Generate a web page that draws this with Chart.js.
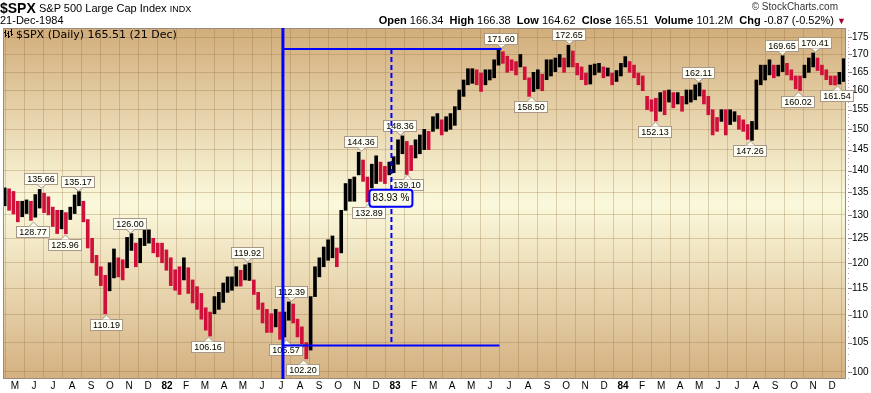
<!DOCTYPE html>
<html>
<head>
<meta charset="utf-8">
<script src="https://cdn.jsdelivr.net/npm/chart.js@4.4.1/dist/chart.umd.min.js"></script>
<style>
body{margin:0;background:#fff;width:871px;height:393px;overflow:hidden;position:relative;font-family:"Liberation Sans",Arial,sans-serif;}
#c{position:absolute;left:0;top:0;}
.h{position:absolute;white-space:nowrap;color:#000;z-index:2;}
.h b{font-weight:bold;}
</style>
</head>
<body>
<canvas id="c" width="871" height="393"></canvas>
<div class="h" style="left:0;top:1px;font-size:14px;line-height:14px;font-weight:bold">$SPX</div>
<div class="h" style="left:39px;top:3px;font-size:11px;line-height:11px">S&amp;P 500 Large Cap Index <span style="font-size:9px">INDX</span></div>
<div class="h" style="left:0;top:15px;font-size:11px;line-height:11px">21-Dec-1984</div>
<div class="h" style="right:33px;top:2px;font-size:10px;line-height:10px;color:#333">&copy; StockCharts.com</div>
<div class="h" style="right:25px;top:15px;font-size:11px;line-height:11px"><b>Open</b> 166.34 &nbsp;<b>High</b> 166.38 &nbsp;<b>Low</b> 164.62 &nbsp;<b>Close</b> 165.51 &nbsp;<b>Volume</b> 101.2M &nbsp;<b>Chg</b> -0.87 (-0.52%) <span style="color:#a0002a;font-size:9px">&#9660;</span></div>
<script>
// weekly ranges, week of 13-Apr-1981 .. week of 17-Dec-1984
var weekLow = [
 132.0,131.0,130.2,128.5,129.6,130.3,128.8,129.5,131.5,130.5,130.0,127.5,126.0,127.0,125.96,129.0,130.3,132.0,128.5,123.0,
 120.0,117.5,115.5,110.19,114.5,117.0,117.2,116.6,119.0,122.5,119.2,120.0,123.5,124.0,122.0,121.2,120.0,118.5,115.5,114.6,
 113.8,116.6,114.0,112.2,111.0,109.2,107.2,106.16,110.2,111.0,112.3,114.2,114.6,115.4,115.4,116.6,116.5,113.8,111.0,108.5,
 106.8,106.8,107.8,105.57,106.0,109.0,108.5,106.0,104.2,102.2,103.7,113.4,117.2,119.2,120.5,121.0,119.2,122.0,131.0,133.0,
 133.0,139.0,137.5,132.89,136.0,137.0,137.5,137.0,139.0,139.5,141.5,144.0,139.1,140.0,143.0,144.0,145.0,145.0,149.5,150.2,
 148.6,149.5,150.0,151.0,155.0,158.5,161.6,162.0,161.6,159.8,161.6,162.9,163.5,167.0,167.5,165.0,165.5,164.3,166.5,163.0,
 158.5,159.8,160.5,160.0,163.0,164.0,165.2,166.5,165.0,166.5,166.5,164.3,163.0,161.6,161.8,164.3,165.0,163.5,164.0,161.6,
 162.5,164.0,166.5,165.0,163.5,161.6,160.0,155.0,154.6,152.13,154.6,153.7,157.0,155.5,156.5,154.6,156.5,157.0,157.6,158.6,
 156.5,153.7,148.6,149.5,152.0,148.6,151.2,152.0,150.0,149.5,147.5,147.26,150.0,161.6,162.9,164.3,163.5,164.0,165.2,164.3,
 162.9,160.5,160.02,163.5,165.0,166.5,165.5,164.3,163.0,161.6,161.54,161.8,162.5
];
var weekHigh = [
 136.0,135.8,135.2,133.0,133.0,133.3,133.0,134.5,135.66,134.8,134.0,131.7,131.0,131.0,130.5,131.7,134.4,135.17,133.0,129.0,
 125.0,121.5,119.2,117.5,120.0,122.8,121.0,120.6,125.2,126.0,124.0,125.0,126.8,126.8,125.0,124.0,124.0,122.6,121.0,118.6,
 119.2,121.0,119.0,116.6,115.3,114.0,111.3,110.5,113.4,114.2,116.0,117.2,117.2,119.2,118.5,119.6,119.92,116.6,114.2,112.2,
 111.0,110.2,111.0,110.5,110.5,112.39,112.0,109.2,107.8,105.0,113.4,119.2,121.0,123.2,124.7,125.5,123.0,131.0,137.0,138.0,
 138.5,144.36,142.5,138.5,141.5,143.5,142.0,141.0,142.0,143.3,147.4,148.36,147.0,146.0,147.4,148.6,150.0,149.5,153.2,154.0,
 152.4,153.2,154.0,155.8,160.2,162.9,166.0,166.0,165.7,164.8,165.7,165.7,168.5,171.6,170.8,169.5,168.5,168.0,170.0,166.5,
 163.5,165.0,165.7,164.5,168.5,168.5,169.0,170.0,169.0,172.65,171.0,167.5,166.5,164.8,167.0,167.3,167.5,166.5,166.2,164.8,
 165.5,167.5,169.4,168.0,167.0,164.8,164.0,158.5,157.6,158.0,159.5,160.0,160.2,159.5,159.5,158.5,160.2,160.2,161.6,162.11,
 160.2,158.5,155.0,153.0,155.0,155.0,155.0,154.5,153.5,152.4,151.2,152.0,162.9,167.0,167.0,168.5,167.0,167.0,169.65,167.5,
 165.7,164.0,164.0,167.0,169.0,170.41,169.0,167.0,165.7,164.0,164.0,165.0,168.8
];
// months counted from 1-Apr-1981 (May 1981 = 1 ... Dec 1984 = 44)
var monthLabels = ['M','J','J','A','S','O','N','D','82','F','M','A','M','J','J','A','S','O','N','D',
 '83','F','M','A','M','J','J','A','S','O','N','D','84','F','M','A','M','J','J','A','S','O','N','D'];
var yTicks = [100,105,110,115,120,125,130,135,140,145,150,155,160,165,170,175];
var firstWeek = 0.46;
var weekStep = 7 / 30.44;

// price labels on the swing highs / lows
var calloutValues = [135.66,128.77,135.17,125.96,110.19,126.00,106.16,119.92,112.39,105.57,102.20,144.36,132.89,148.36,139.10,171.60,158.50,172.65,152.13,162.11,147.26,169.65,160.02,170.41,161.54];
var calloutMonths = [2.37,1.95,4.32,3.64,5.80,7.06,11.17,13.22,15.54,15.25,16.17,19.23,19.65,21.28,21.65,26.55,28.13,30.14,34.67,36.93,39.67,41.36,42.2,43.1,44.26];
var calloutSides = ['up','dn','up','dn','dn','up','dn','up','up','dn','dn','up','dn','up','dn','up','dn','up','dn','up','dn','up','dn','up','dn'];

// percent measuring tool
var measure = {from:15.1, to:26.6, mid:20.81, high:171.6, low:104.5, text:'83.93 %', textValue:133.8};

var black = '#000000', red = '#d0103a';
var points = weekLow.map(function(lo, i){ return {x: firstWeek + i*weekStep, y:[lo, weekHigh[i]]}; });
var colors = weekLow.map(function(lo, i){
  if (i === 0) return black;
  var m = (lo + weekHigh[i]) / 2, p = (weekLow[i-1] + weekHigh[i-1]) / 2;
  return m < p ? red : black;
});

var bgPlugin = {
  id:'bg',
  beforeDraw: function(chart){
    var a = chart.chartArea, ctx = chart.ctx;
    var g = ctx.createLinearGradient(0, a.top, 0, a.bottom);
    g.addColorStop(0, '#d2ad7b');
    g.addColorStop(0.5, '#fbf9dc');
    g.addColorStop(1, '#d4b080');
    ctx.save();
    ctx.fillStyle = g;
    ctx.fillRect(a.left, a.top, a.right - a.left, a.bottom - a.top);
    ctx.restore();
  }
};

var overlay = {
  id:'overlay',
  afterDraw: function(chart){
    var ctx = chart.ctx, a = chart.chartArea, x = chart.scales.x, y = chart.scales.y;
    ctx.save();
    // frame
    ctx.strokeStyle = '#9a8c7c'; ctx.lineWidth = 1;
    ctx.strokeRect(a.left + 0.5, a.top + 0.5, a.right - a.left - 1, a.bottom - a.top - 1);
    // right axis tick marks
    ctx.fillStyle = '#c0a0a0';
    for (var v = 99; v <= 177; v++) ctx.fillRect(a.right + 2, Math.round(y.getPixelForValue(v)), 1, 1);
    ctx.fillStyle = '#8c7c6c';
    yTicks.forEach(function(t){ ctx.fillRect(a.right + 2, Math.round(y.getPixelForValue(t)), 4, 1); });

    // callouts
    ctx.font = '9px "Liberation Sans", Arial, sans-serif';
    ctx.lineWidth = 1;
    calloutValues.forEach(function(val, i){
      var px = Math.round(x.getPixelForValue(calloutMonths[i])), py = Math.round(y.getPixelForValue(val));
      var txt = val.toFixed(2);
      var w = Math.ceil(ctx.measureText(txt).width) + 5, h = 11;
      var left = px - Math.round(w / 2), top, base, tip;
      if (calloutSides[i] === 'up') { top = py - 5 - h; base = top + h; tip = py - 1; }
      else { top = py + 5; base = top; tip = py + 1; }
      ctx.fillStyle = '#fffff6'; ctx.strokeStyle = '#a8988a';
      ctx.fillRect(left, top, w, h);
      ctx.strokeRect(left + 0.5, top + 0.5, w, h);
      ctx.beginPath();
      ctx.moveTo(px - 4, base + 0.5); ctx.lineTo(px + 0.5, tip); ctx.lineTo(px + 5, base + 0.5);
      ctx.closePath(); ctx.fill();
      ctx.beginPath();
      ctx.moveTo(px - 4, base + 0.5); ctx.lineTo(px + 0.5, tip); ctx.lineTo(px + 5, base + 0.5);
      ctx.stroke();
      ctx.fillStyle = '#000'; ctx.textAlign = 'center'; ctx.textBaseline = 'middle';
      ctx.fillText(txt, left + w / 2 + 0.5, top + h / 2 + 1);
    });

    // measuring tool
    var xa = x.getPixelForValue(measure.from), xb = x.getPixelForValue(measure.to), xd = x.getPixelForValue(measure.mid);
    var yh = y.getPixelForValue(measure.high), yl = y.getPixelForValue(measure.low);
    ctx.strokeStyle = '#0000ff';
    ctx.lineWidth = 3;
    ctx.beginPath(); ctx.moveTo(xa, a.top); ctx.lineTo(xa, a.bottom); ctx.stroke();
    ctx.lineWidth = 2;
    ctx.beginPath(); ctx.moveTo(xa, yh); ctx.lineTo(xb, yh); ctx.moveTo(xa, yl); ctx.lineTo(xb - 2, yl); ctx.stroke();
    ctx.setLineDash([5, 3]);
    ctx.beginPath(); ctx.moveTo(xd, yh); ctx.lineTo(xd, yl); ctx.stroke();
    ctx.setLineDash([]);
    var ym = y.getPixelForValue(measure.textValue);
    ctx.fillStyle = '#fdfbea';
    ctx.beginPath(); ctx.roundRect(xd - 22, ym - 8, 43, 17, 3); ctx.fill(); ctx.stroke();
    ctx.fillStyle = '#000'; ctx.font = '10px "Liberation Sans", Arial, sans-serif';
    ctx.textAlign = 'center'; ctx.textBaseline = 'middle';
    ctx.fillText(measure.text, xd - 0.5, ym + 1);

    // legend line
    ctx.fillStyle = '#000';
    [[5,30,37],[8,31,38],[11,29,36]].forEach(function(b){ ctx.fillRect(b[0], b[1], 1, b[2] - b[1]); ctx.fillRect(b[0] - 1, b[1] + 2, 1, 1); ctx.fillRect(b[0] + 1, b[2] - 2, 1, 1); });
    ctx.font = '11px "DejaVu Sans", sans-serif';
    ctx.textAlign = 'left'; ctx.textBaseline = 'alphabetic';
    ctx.fillText('$SPX (Daily) 165.51 (21 Dec)', 16, 38);
    ctx.restore();
  }
};

Chart.defaults.font.family = '"Liberation Sans", Arial, sans-serif';

new Chart(document.getElementById('c').getContext('2d'), {
  type: 'bar',
  data: {
    datasets: [{
      data: points,
      backgroundColor: colors,
      borderWidth: 0,
      barThickness: 3
    }]
  },
  options: {
    responsive: false,
    animation: false,
    layout: { padding: { top: 28, left: 3, right: 0, bottom: 0 } },
    plugins: { legend: { display: false }, tooltip: { enabled: false } },
    scales: {
      x: {
        type: 'linear', min: 0.37, max: 44.73, offset: false,
        afterBuildTicks: function(s){ s.ticks = monthLabels.map(function(l, k){ return {value: k + 1}; }); },
        afterFit: function(s){ s.height = 14; },
        grid: { color: 'rgba(140,105,55,0.28)', drawTicks: false },
        border: { display: false },
        ticks: {
          padding: 1, color: '#000', autoSkip: false, maxRotation: 0,
          font: function(c){ return { size: 10, weight: /^\d/.test(monthLabels[c.index] || '') ? 'bold' : 'normal' }; },
          callback: function(v, k){ return monthLabels[k]; }
        }
      },
      y: {
        type: 'logarithmic', position: 'right', min: 98.8, max: 177.7,
        afterBuildTicks: function(s){ s.ticks = yTicks.map(function(v){ return {value: v}; }); },
        afterFit: function(s){ s.width = 25; },
        grid: { color: 'rgba(140,105,55,0.28)', drawTicks: false },
        border: { display: false },
        ticks: { padding: 6, color: '#000', font: { size: 10 }, callback: function(v){ return String(v); } }
      }
    }
  },
  plugins: [bgPlugin, overlay]
});
</script>
</body>
</html>
